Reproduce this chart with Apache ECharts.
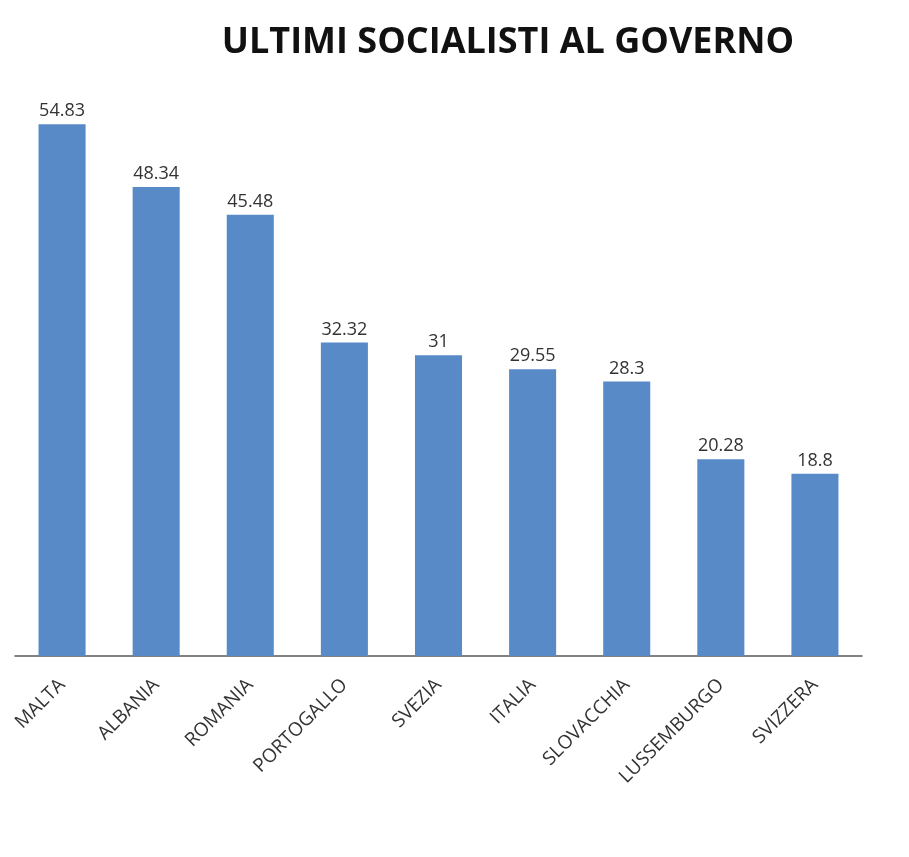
<!DOCTYPE html>
<html>
<head>
<meta charset="utf-8">
<script src="https://cdn.jsdelivr.net/npm/echarts@6/dist/echarts.min.js"></script>
<style>
  html, body { margin: 0; padding: 0; background: #fff; }
  #chart { width: 909px; height: 857px; }
</style>
</head>
<body>
<div id="chart"></div>
<script>
// dati
const countries = ['MALTA', 'ALBANIA', 'ROMANIA', 'PORTOGALLO', 'SVEZIA', 'ITALIA', 'SLOVACCHIA', 'LUSSEMBURGO', 'SVIZZERA']
const values = [54.83, 48.34, 45.48, 32.32, 31, 29.55, 28.3, 20.28, 18.8]

const chart = echarts.init(document.getElementById('chart'))

chart.setOption({
  animation: false,
  title: {
    text: 'ULTIMI SOCIALISTI AL GOVERNO',
    left: 503,
    top: 20,
    textAlign: 'center',
    textStyle: {
      fontFamily: 'Open Sans',
      fontWeight: 'bold',
      fontSize: 36,
      color: '#111'
    }
  },
  grid: {
    left: 15,
    right: 47,
    top: 74,
    bottom: 201
  },
  xAxis: {
    type: 'category',
    data: countries,
    axisLine: {
      lineStyle: { color: '#595959', width: 1.5 }
    },
    axisTick: { show: false },
    axisLabel: {
      rotate: 45,
      margin: 26,
      interval: 0,
      fontFamily: 'Open Sans',
      fontSize: 19,
      color: '#333'
    }
  },
  yAxis: {
    type: 'value',
    min: 0,
    max: 60,
    show: false,
    splitLine: { show: false }
  },
  series: [
    {
      type: 'bar',
      data: values,
      barWidth: '50%',
      itemStyle: { color: '#588AC8' },
      label: {
        show: true,
        position: 'top',
        distance: 4,
        fontFamily: 'Open Sans',
        fontSize: 18,
        color: '#333'
      }
    }
  ]
})
</script>
</body>
</html>
